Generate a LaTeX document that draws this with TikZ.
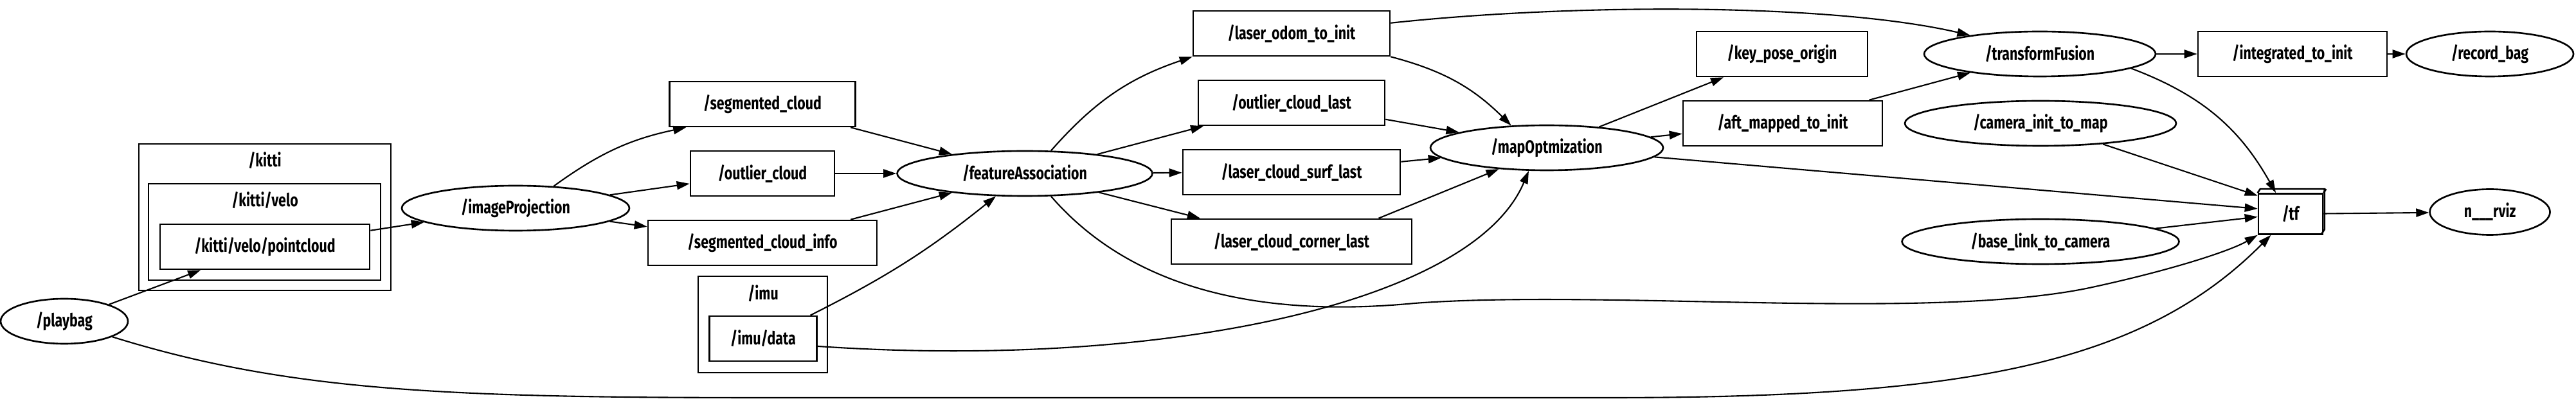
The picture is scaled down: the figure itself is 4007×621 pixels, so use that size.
\documentclass[tikz,border=0pt]{standalone}
\usepackage{fontspec}
\setmainfont{Fira Sans}[FakeStretch=0.76]
\usetikzlibrary{shapes.geometric, arrows.meta}

\begin{document}
\begin{tikzpicture}[
  x=0.1mm, y=-0.1mm,
  every node/.style={font=\bfseries\fontsize{8}{9.6}\selectfont, inner sep=0pt, line width=0.75pt},
  topic/.style={draw, rectangle, minimum height=0.7cm},
  rosnode/.style={draw, ellipse, minimum height=0.7cm},
  cluster/.style={draw, rectangle},
  arr/.style={-{Triangle[length=2mm, width=1.3mm]}, line width=0.6pt}
]
\useasboundingbox (0,0) rectangle (4007,621);

% namespaces
\node[cluster, minimum width=3.92cm, minimum height=2.28cm] (kitti) at (412,338) {};
\node[cluster, minimum width=3.61cm, minimum height=1.5cm] (kittivelo) at (411.5,361) {};
\node[cluster, minimum width=2.01cm, minimum height=1.5cm] (imu) at (1186.5,505) {};
\node (kittilbl) at (412,250) {/kitti};
\node (velolbl) at (412,312) {/kitti/velo};
\node (imulbl) at (1187,457) {/imu};

% topics
\node[topic, minimum width=3.26cm] (pointcloud) at (412,384) {/kitti/velo/pointcloud};
\node[topic, minimum width=2.89cm] (segcloud) at (1186,162) {/segmented\_cloud};
\node[topic, minimum width=2.24cm] (outcloud) at (1186,270) {/outlier\_cloud};
\node[topic, minimum width=3.56cm] (seginfo) at (1186,378) {/segmented\_cloud\_info};
\node[topic, minimum width=1.67cm] (imudata) at (1187,527) {/imu/data};
\node[topic, minimum width=3.06cm] (odominit) at (2009,52) {/laser\_odom\_to\_init};
\node[topic, minimum width=2.90cm] (outlast) at (2009,160) {/outlier\_cloud\_last};
\node[topic, minimum width=3.38cm] (surflast) at (2009,268) {/laser\_cloud\_surf\_last};
\node[topic, minimum width=3.74cm] (cornerlast) at (2009,376) {/laser\_cloud\_corner\_last};
\node[topic, minimum width=2.66cm] (keypose) at (2772,84) {/key\_pose\_origin};
\node[topic, minimum width=3.10cm] (aftmapped) at (2773,192) {/aft\_mapped\_to\_init};
\node[topic, minimum width=2.94cm] (integrated) at (3566,84) {/integrated\_to\_init};
\node[topic, minimum width=1.0cm, minimum height=0.63cm] (tf) at (3563,333) {/tf};
\draw[line width=0.75pt] (tf.north west) -- ++(4,-6) -- ++(100,0) -- ++(0,63) -- ++(-4,6);
\draw[line width=0.75pt] (tf.north east) -- ++(4,-6);

% nodes
\node[rosnode, minimum width=1.98cm] (playbag) at (100,500) {/playbag};
\node[rosnode, minimum width=3.54cm] (imgproj) at (802,324) {/imageProjection};
\node[rosnode, minimum width=3.97cm] (featassoc) at (1594,270) {/featureAssociation};
\node[rosnode, minimum width=3.62cm] (mapopt) at (2406,230) {/mapOptmization};
\node[rosnode, minimum width=3.60cm] (tffusion) at (3173,84) {/transformFusion};
\node[rosnode, minimum width=4.22cm] (caminit) at (3174,192) {/camera\_init\_to\_map};
\node[rosnode, minimum width=4.31cm] (baselink) at (3174,376) {/base\_link\_to\_camera};
\node[rosnode, minimum width=2.60cm] (recordbag) at (3873,84) {/record\_bag};
\node[rosnode, minimum width=1.87cm, minimum height=0.71cm] (rviz) at (3873,330) {n\_\_\_rviz};

% connections
\draw[arr] (playbag) -- (pointcloud.-160);
\draw[arr] (pointcloud) -- (imgproj);
\draw[arr] (imgproj.30) to[bend left=12] (segcloud.-163);
\draw[arr] (imgproj) -- (outcloud);
\draw[arr] (imgproj) -- (seginfo);
\draw[arr] (segcloud) -- (featassoc);
\draw[arr] (outcloud) -- (featassoc);
\draw[arr] (seginfo) -- (featassoc);
\draw[arr] (imudata) to[bend right=6] (featassoc);
\draw[arr] (imudata.-8) .. controls (1800,575) and (2290,475) .. (mapopt.-128);
\draw[arr] (featassoc.41) to[bend left=15] (odominit.south west);
\draw[arr] (featassoc) -- (outlast);
\draw[arr] (featassoc) -- (surflast);
\draw[arr] (featassoc) -- (cornerlast);
\draw[arr] (featassoc.-41) .. controls (1760,450) and (1960,495) .. (2200,472)
  .. controls (2500,450) and (3000,500) .. (3250,448)
  .. controls (3380,420) and (3470,390) .. (tf.south west);
\draw[arr] (odominit.south east) to[bend left=15] (mapopt.148);
\draw[arr] (odominit.6) .. controls (2450,5) and (2850,5) .. (tffusion.165);
\draw[arr] (outlast) -- (mapopt);
\draw[arr] (surflast) -- (mapopt);
\draw[arr] (cornerlast.15) -- (mapopt.-156);
\draw[arr] (mapopt) -- (keypose);
\draw[arr] (mapopt) -- (aftmapped);
\draw[arr] (mapopt) -- (tf.171);
\draw[arr] (aftmapped) -- (tffusion);
\draw[arr] (tffusion) -- (integrated);
\draw[arr] (integrated) -- (recordbag);
\draw[arr] (tffusion.-9) to[bend left=20] (tf.125);
\draw[arr] (caminit) -- (tf.151);
\draw[arr] (baselink) -- (tf.185);
\draw[arr] (tf) -- (rviz);
\draw[arr] (playbag.-18) .. controls (450,610) and (700,619) .. (1200,619) -- (2500,619)
  .. controls (3050,619) and (3330,570) .. (tf.-133);
\end{tikzpicture}
\end{document}
